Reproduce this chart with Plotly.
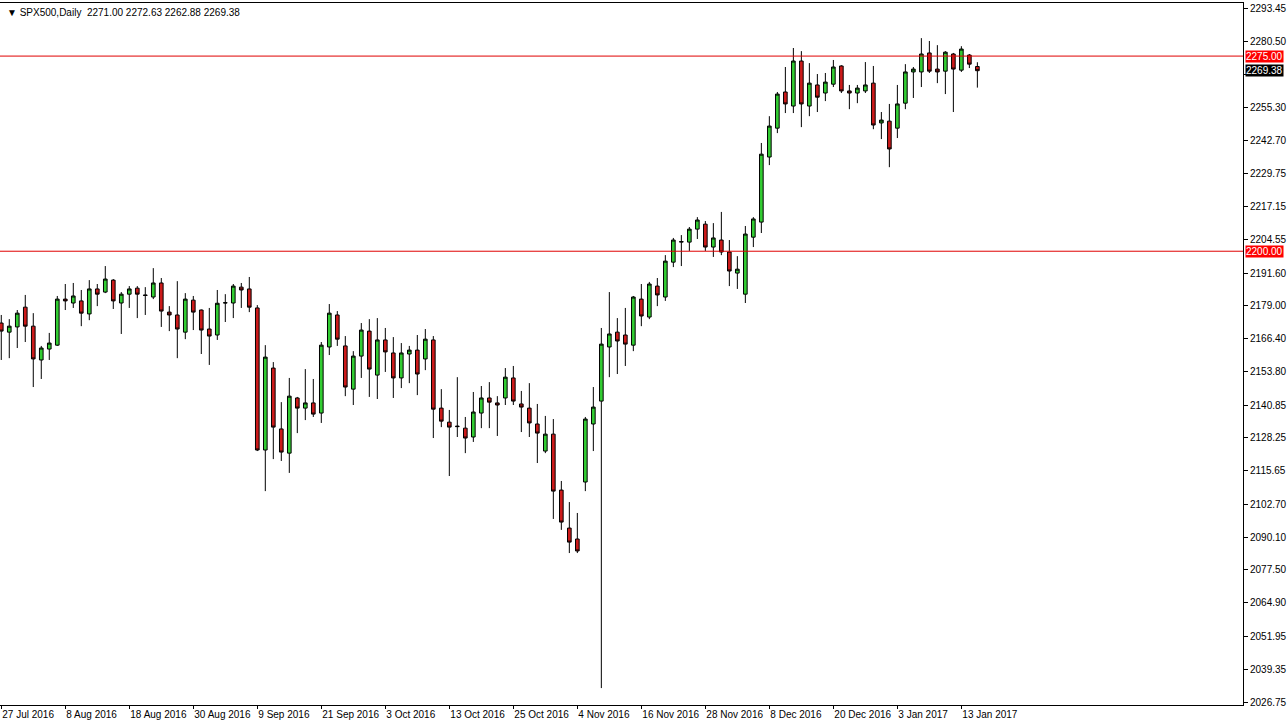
import plotly.graph_objects as go

# Daily candles, 27 Jul 2016 .. 18 Jan 2017 (bar index 0..122)
opens = [2172.4, 2168.9, 2170.9, 2178.5, 2171.2, 2158.2, 2162.4, 2163.9, 2181.6, 2180.1,
         2180.9, 2175.9, 2185.5, 2184.3, 2188.9, 2180.1, 2183.5, 2185.8, 2183.2, 2182.4,
         2187.8, 2176.6, 2175.5, 2168.9, 2181.2, 2177.4, 2170.1, 2167.8, 2180.1, 2180.1,
         2186.2, 2185.5, 2178.2, 2123.6, 2155.1, 2131.7, 2122.4, 2143.6, 2139.7, 2141.7,
         2137.8, 2163.2, 2175.5, 2163.6, 2147.0, 2159.7, 2169.3, 2152.4, 2165.9, 2160.9,
         2151.3, 2160.5, 2162.0, 2158.6, 2165.9, 2139.7, 2134.3, 2132.8, 2132.0, 2128.6,
         2137.8, 2143.6, 2141.7, 2143.6, 2151.3, 2141.3, 2139.7, 2133.6, 2123.2, 2129.7,
         2108.2, 2093.6, 2089.4, 2111.3, 2133.6, 2142.4, 2163.2, 2168.9, 2167.8, 2163.9,
         2181.6, 2174.7, 2186.6, 2182.4, 2195.8, 2203.5, 2203.5, 2208.5, 2210.4, 2201.6,
         2204.3, 2199.7, 2191.6, 2183.5, 2205.4, 2211.2, 2236.2, 2247.3, 2261.2, 2255.8,
         2273.1, 2255.8, 2263.9, 2260.8, 2264.2, 2271.2, 2261.6, 2260.8, 2261.6, 2264.6,
         2249.3, 2250.0, 2247.3, 2256.9, 2268.9, 2268.9, 2276.2, 2270.0, 2269.2, 2275.8,
         2269.6, 2275.4, 2271.00]
highs = [2175.5, 2173.9, 2177.4, 2183.2, 2176.2, 2163.6, 2168.6, 2182.8, 2187.4, 2187.8,
         2185.1, 2188.9, 2187.4, 2194.3, 2189.3, 2184.3, 2186.6, 2186.6, 2186.2, 2193.5,
         2189.7, 2178.9, 2188.5, 2183.9, 2182.8, 2177.6, 2178.2, 2185.1, 2183.5, 2187.4,
         2187.8, 2190.1, 2179.3, 2163.9, 2157.4, 2142.0, 2151.3, 2144.0, 2154.7, 2150.9,
         2165.1, 2179.7, 2177.0, 2167.4, 2161.6, 2172.4, 2173.9, 2174.3, 2170.5, 2167.0,
         2164.7, 2163.6, 2167.8, 2170.1, 2167.4, 2147.0, 2139.0, 2151.6, 2136.3, 2145.9,
         2148.2, 2149.7, 2144.3, 2155.1, 2155.9, 2146.3, 2149.3, 2141.3, 2136.7, 2135.5,
         2111.7, 2103.6, 2099.4, 2136.3, 2147.8, 2170.5, 2184.3, 2174.3, 2178.2, 2182.8,
         2187.4, 2188.2, 2189.7, 2198.5, 2205.1, 2206.2, 2209.3, 2213.1, 2211.6, 2210.8,
         2215.1, 2204.3, 2198.1, 2209.7, 2213.1, 2241.6, 2251.9, 2261.2, 2270.8, 2278.1,
         2276.9, 2272.3, 2268.1, 2268.5, 2273.5, 2271.5, 2263.9, 2263.9, 2272.7, 2271.2,
         2253.5, 2256.6, 2263.9, 2271.9, 2270.8, 2281.9, 2280.8, 2279.2, 2276.9, 2276.2,
         2278.8, 2275.8, 2272.63]
lows = [2158.2, 2158.9, 2162.8, 2165.1, 2147.8, 2150.9, 2158.2, 2163.6, 2177.4, 2178.2,
        2171.2, 2173.5, 2178.9, 2183.9, 2177.8, 2168.2, 2178.2, 2174.3, 2175.5, 2181.6,
        2170.9, 2169.3, 2158.9, 2166.2, 2169.7, 2160.5, 2156.3, 2165.9, 2172.8, 2174.3,
        2178.2, 2176.6, 2123.2, 2107.8, 2120.1, 2119.4, 2114.8, 2130.1, 2135.1, 2136.3,
        2134.0, 2160.1, 2163.6, 2144.3, 2140.9, 2151.3, 2144.0, 2143.2, 2153.6, 2143.6,
        2147.4, 2149.3, 2144.7, 2154.3, 2128.2, 2132.4, 2113.6, 2128.6, 2122.4, 2126.7,
        2132.0, 2132.0, 2129.0, 2140.9, 2140.9, 2130.5, 2128.6, 2118.6, 2122.4, 2097.1,
        2092.9, 2084.0, 2084.0, 2107.8, 2123.2, 2032.1, 2151.6, 2152.8, 2155.9, 2161.6,
        2171.2, 2173.9, 2178.9, 2180.9, 2193.9, 2194.3, 2200.1, 2204.7, 2200.1, 2197.8,
        2198.5, 2186.6, 2185.5, 2180.1, 2201.6, 2207.0, 2233.1, 2245.4, 2253.1, 2253.1,
        2247.7, 2251.9, 2253.5, 2257.7, 2263.1, 2260.8, 2254.6, 2256.9, 2260.8, 2246.9,
        2243.1, 2232.3, 2243.5, 2254.6, 2258.9, 2263.1, 2268.5, 2264.6, 2260.4, 2253.5,
        2268.9, 2270.4, 2262.88]
closes = [2169.3, 2171.2, 2176.2, 2171.2, 2158.6, 2162.8, 2164.7, 2181.6, 2180.9, 2182.8,
          2176.2, 2185.5, 2183.5, 2189.3, 2180.9, 2183.5, 2185.5, 2183.5, 2183.0, 2187.8,
          2177.0, 2175.5, 2170.1, 2181.6, 2176.6, 2169.7, 2167.4, 2180.0, 2180.2, 2186.6,
          2185.1, 2178.5, 2123.6, 2159.3, 2132.4, 2122.8, 2144.3, 2139.7, 2141.7, 2137.4,
          2163.9, 2176.2, 2166.2, 2147.8, 2159.7, 2169.7, 2154.7, 2165.9, 2161.3, 2151.3,
          2160.9, 2162.0, 2152.8, 2166.2, 2139.3, 2134.7, 2132.4, 2132.6, 2128.2, 2138.2,
          2143.6, 2142.0, 2140.9, 2151.6, 2142.4, 2140.1, 2134.0, 2130.1, 2129.7, 2107.8,
          2095.9, 2088.2, 2084.8, 2135.5, 2140.1, 2164.3, 2168.2, 2165.5, 2164.3, 2182.4,
          2175.1, 2187.4, 2183.2, 2196.2, 2204.3, 2203.7, 2208.5, 2212.0, 2201.6, 2205.1,
          2199.7, 2192.4, 2193.1, 2206.6, 2212.4, 2237.3, 2248.1, 2260.4, 2256.6, 2273.1,
          2256.6, 2264.6, 2259.2, 2265.0, 2270.8, 2261.6, 2260.8, 2262.7, 2263.9, 2248.5,
          2250.4, 2239.3, 2256.6, 2268.9, 2270.0, 2275.8, 2269.2, 2268.9, 2276.5, 2270.0,
          2277.7, 2271.9, 2269.38]

date_tick_bars = [0, 8, 16, 24, 32, 40, 48, 56, 64, 72, 80, 88, 96, 104, 112, 120]
date_tick_labels = ["27 Jul 2016", "8 Aug 2016", "18 Aug 2016", "30 Aug 2016", "9 Sep 2016",
                    "21 Sep 2016", "3 Oct 2016", "13 Oct 2016", "25 Oct 2016", "4 Nov 2016",
                    "16 Nov 2016", "28 Nov 2016", "8 Dec 2016", "20 Dec 2016", "3 Jan 2017",
                    "13 Jan 2017"]

price_ticks = [2293.45, 2280.50, 2267.90, 2255.30, 2242.70, 2229.75, 2217.15, 2204.55,
               2191.60, 2179.00, 2166.40, 2153.80, 2140.85, 2128.25, 2115.65, 2102.70,
               2090.10, 2077.50, 2064.90, 2051.95, 2039.35, 2026.75]
# the 2267.90 label sits under the black last-price tag, so it is left blank
price_tick_labels = ["" if v == 2267.90 else "%.2f" % v for v in price_ticks]

hlines = [2275.00, 2200.00]
last_close = 2269.38
title_text = "SPX500,Daily  2271.00 2272.63 2262.88 2269.38"

bars = list(range(len(opens)))
FONT = "'Liberation Sans', Arial, sans-serif"

fig = go.Figure()
fig.add_trace(go.Candlestick(
    x=bars, open=opens, high=highs, low=lows, close=closes,
    increasing=dict(fillcolor="#32cd32", line=dict(color="black", width=1)),
    decreasing=dict(fillcolor="#cc1a1a", line=dict(color="black", width=1)),
    whiskerwidth=0, showlegend=False, hoverinfo="skip",
))

shapes = []
for v in hlines:
    shapes.append(dict(type="line", xref="paper", x0=0, x1=1, yref="y", y0=v, y1=v,
                       line=dict(color="#e00000", width=1)))

annotations = [dict(xref="paper", yref="paper", x=0.004, y=0.987, xanchor="left",
                    yanchor="middle", showarrow=False,
                    text="▼ " + title_text,
                    font=dict(family=FONT, size=10, color="black"))]
for v in hlines:
    annotations.append(dict(xref="paper", yref="y", x=1.0015, y=v, xanchor="left",
                            yanchor="middle", showarrow=False, text="%.2f" % v,
                            bgcolor="#ff0000", borderpad=0,
                            font=dict(family=FONT, size=10, color="white")))
annotations.append(dict(xref="paper", yref="y", x=1.0015, y=last_close, xanchor="left",
                        yanchor="middle", showarrow=False, text="%.2f" % last_close,
                        bgcolor="black", borderpad=0,
                        font=dict(family=FONT, size=10, color="white")))

fig.update_layout(
    width=1288, height=727,
    margin=dict(l=0, r=45, t=3, b=22, autoexpand=False),
    paper_bgcolor="white", plot_bgcolor="white",
    boxgap=0.35,
    shapes=shapes, annotations=annotations,
    xaxis=dict(range=[-0.16, 155.2], showgrid=False, zeroline=False, showline=True,
               linecolor="black", linewidth=1, mirror=True, ticks="outside", ticklen=3,
               tickcolor="black", tickvals=date_tick_bars, ticktext=date_tick_labels,
               ticklabelposition="outside right", tickangle=0, automargin=False,
               rangeslider=dict(visible=False),
               tickfont=dict(family=FONT, size=10, color="black")),
    yaxis=dict(side="right", range=[2025.6, 2295.4], showgrid=False, zeroline=False,
               showline=True, linecolor="black", linewidth=1, mirror=True,
               ticks="outside", ticklen=4, tickcolor="black", automargin=False,
               tickvals=price_ticks, ticktext=price_tick_labels,
               tickfont=dict(family=FONT, size=10, color="black")),
)

fig.write_html("out.html", config={"displayModeBar": False},
               post_script="document.body.style.margin='0';")
